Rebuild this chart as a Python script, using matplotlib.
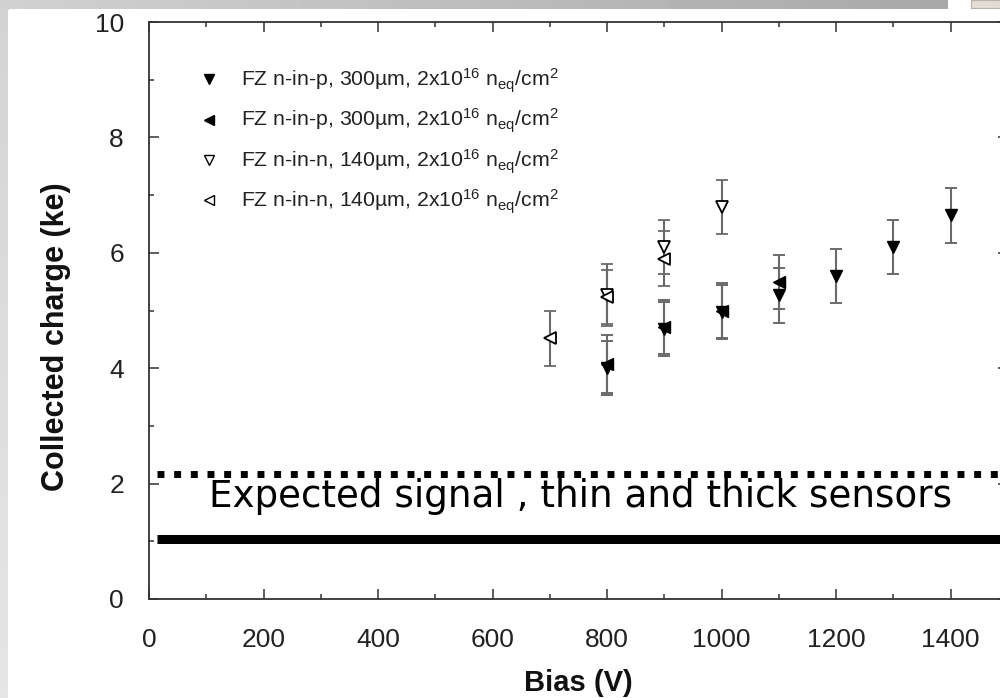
import matplotlib
matplotlib.use("Agg")
import matplotlib.pyplot as plt
from matplotlib.lines import Line2D
from matplotlib.ticker import MultipleLocator
import numpy as np

plt.rcParams["font.family"] = ["Liberation Sans", "DejaVu Sans"]
plt.rcParams["mathtext.default"] = "regular"

# FZ n-in-p, 300um (filled down triangles)
bias_p1 = [800, 900, 1000, 1100, 1200, 1300, 1400]
charge_p1 = [4.00, 4.68, 4.97, 5.26, 5.60, 6.10, 6.65]
err_p1 = [0.47, 0.47, 0.47, 0.48, 0.47, 0.47, 0.48]

# FZ n-in-p, 300um (filled left triangles)
bias_p2 = [800, 900, 1000, 1100]
charge_p2 = [4.07, 4.72, 5.00, 5.50]
err_p2 = [0.50, 0.47, 0.47, 0.47]

# FZ n-in-n, 140um (open down triangles)
bias_n1 = [800, 900, 1000]
charge_n1 = [5.27, 6.10, 6.80]
err_n1 = [0.53, 0.47, 0.47]

# FZ n-in-n, 140um (open left triangles)
bias_n2 = [700, 800, 900]
charge_n2 = [4.52, 5.23, 5.90]
err_n2 = [0.48, 0.47, 0.47]

labels = [
    r"FZ n-in-p, 300µm, 2x10$^{16}$ n$_{eq}$/cm$^{2}$",
    r"FZ n-in-p, 300µm, 2x10$^{16}$ n$_{eq}$/cm$^{2}$",
    r"FZ n-in-n, 140µm, 2x10$^{16}$ n$_{eq}$/cm$^{2}$",
    r"FZ n-in-n, 140µm, 2x10$^{16}$ n$_{eq}$/cm$^{2}$",
]

# expected signal levels (thick / thin sensors)
expected_x = [14, 1500]
expected_thick = 2.17
expected_thin = 1.04

W, H = 1000, 698
fig = plt.figure(figsize=(10, 6.98), dpi=100, facecolor="white")

# slide background strips
bg = fig.add_axes([0, 0, 1, 1], zorder=-10)
bg.set_xlim(0, W); bg.set_ylim(H, 0); bg.axis("off")
grad_h = np.linspace(0.82, 0.66, 256).reshape(1, -1)
bg.imshow(grad_h, extent=(0, 948, 9, 0), aspect="auto", cmap="gray",
          vmin=0, vmax=1)
grad_v = np.linspace(0.83, 0.90, 256).reshape(-1, 1)
bg.imshow(grad_v, extent=(0, 8, H, 9), aspect="auto", cmap="gray",
          vmin=0, vmax=1)
bg.add_patch(plt.Rectangle((0, 0), 8, 9, color="#d2d2d2"))
bg.add_patch(plt.Rectangle((971, 0), 29, 8, fc="#e2ddd2", ec="#b8b4aa", lw=0.8))

ax = fig.add_axes([149 / W, 1 - 599 / H, 859 / W, 577 / H])
ax.set_xlim(0, 1500)
ax.set_ylim(0, 10)

ekw = dict(ecolor="#6a6a6a", elinewidth=1.5, capsize=4.3, capthick=1.4,
           linestyle="none", markersize=9, zorder=3)
ax.errorbar(bias_p1, charge_p1, yerr=err_p1, fmt="v", mfc="black", mec="black", **ekw)
ax.errorbar(bias_p2, charge_p2, yerr=err_p2, fmt="<", mfc="black", mec="black", **ekw)
ax.errorbar(bias_n1, charge_n1, yerr=err_n1, fmt="v", mfc="white", mec="black",
            mew=1.3, **ekw)
ax.errorbar(bias_n2, charge_n2, yerr=err_n2, fmt="<", mfc="white", mec="black",
            mew=1.3, **ekw)

ax.plot(expected_x, [expected_thick] * 2, color="black", lw=5,
        linestyle=(0, (1, 1.4)), dash_capstyle="butt", zorder=2)
ax.plot(expected_x, [expected_thin] * 2, color="black", lw=6.5,
        solid_capstyle="butt", zorder=2)
ax.text(0.0698, 1.6, "Expected signal , thin and thick sensors",
        transform=ax.get_yaxis_transform(),
        family="DejaVu Sans", fontsize=26.8, ha="left", va="baseline", zorder=4)

handles = [
    Line2D([], [], marker="v", ls="none", mfc="black", mec="black", ms=7),
    Line2D([], [], marker="<", ls="none", mfc="black", mec="black", ms=7),
    Line2D([], [], marker="v", ls="none", mfc="white", mec="black", ms=6.5, mew=1),
    Line2D([], [], marker="<", ls="none", mfc="white", mec="black", ms=6.5, mew=1),
]
ax.legend(handles, labels, loc="upper left", bbox_to_anchor=(0.0577, 0.922),
          frameon=False, fontsize=15.3, handlelength=1.0, handletextpad=1.0,
          borderpad=0, borderaxespad=0, labelspacing=0.55,
          labelcolor="#222222")

ax.xaxis.set_major_locator(MultipleLocator(200))
ax.xaxis.set_minor_locator(MultipleLocator(100))
ax.yaxis.set_major_locator(MultipleLocator(2))
ax.yaxis.set_minor_locator(MultipleLocator(1))
ax.tick_params(which="both", direction="in", top=True, right=True,
               color="#333333", width=1.1, labelsize=19, labelcolor="#222222")
ax.tick_params(which="major", length=7)
ax.tick_params(which="minor", length=3.5)
ax.tick_params(axis="x", pad=21)
ax.tick_params(axis="y", pad=18)
ax.set_xticks(np.arange(0, 1401, 200))

for s in ax.spines.values():
    s.set_color("#333333")
    s.set_linewidth(1.3)

ax.set_xlabel("Bias (V)", fontsize=21, fontweight="bold", color="#111111")
ax.xaxis.set_label_coords(0.5, -0.122)
ax.set_ylabel("Collected charge (ke)", fontsize=22, fontweight="bold", color="#111111")
ax.yaxis.set_label_coords(-0.091, 0.455)

fig.savefig("out.png", dpi=100)
